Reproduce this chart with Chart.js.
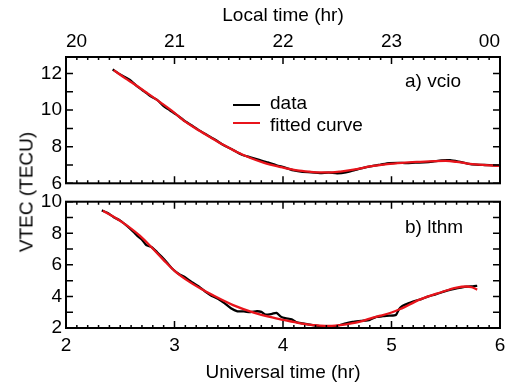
<!DOCTYPE html>
<html>
<head>
<meta charset="utf-8">
<script src="https://cdn.jsdelivr.net/npm/chart.js@4.4.1/dist/chart.umd.min.js"></script>
<style>
  body { margin: 0; background: #fff; }
  #wrap { position: relative; width: 507px; height: 387px; font-family: 'Liberation Sans', Arial, sans-serif; color: #000; }
  canvas { position: absolute; left: 0; }
  .txt { position: absolute; font-size: 19px; line-height: 19px; white-space: nowrap; }
  .swatch { position: absolute; height: 2px; width: 27px; }
</style>
</head>
<body>
<div id="wrap">
  <canvas id="top" width="507" height="196" style="top:0"></canvas>
  <canvas id="bottom" width="507" height="197" style="top:190px"></canvas>

  <div class="txt" style="left:405px; top:71px">a) vcio</div>
  <div class="txt" style="left:405px; top:217px">b) lthm</div>

  <div class="swatch" style="left:233px; top:104px; background:#000"></div>
  <div class="txt" style="left:270px; top:93px">data</div>
  <div class="swatch" style="left:233px; top:122px; background:#e8141b"></div>
  <div class="txt" style="left:270px; top:115px">fitted curve</div>

  <div class="txt" style="left:26px; top:192px; transform: translate(-50%, -50%) rotate(-90deg);">VTEC (TECU)</div>
</div>

<script>
// vcio station: universal time (hr) and VTEC (TECU)
var vcioTime = [2.43, 2.48, 2.55, 2.60, 2.66, 2.72, 2.78, 2.84, 2.90, 2.96, 3.02, 3.10, 3.16, 3.22, 3.30, 3.38,
  3.46, 3.54, 3.62, 3.70, 3.78, 3.86, 3.94, 4.02, 4.10, 4.18, 4.26, 4.34, 4.42, 4.50, 4.58, 4.66, 4.74, 4.82,
  4.90, 4.98, 5.06, 5.14, 5.22, 5.30, 5.38, 5.46, 5.54, 5.62, 5.70, 5.78, 5.86, 5.94, 6.00];
var vcioData = [12.22, 12.02, 11.78, 11.60, 11.28, 11.02, 10.76, 10.56, 10.22, 9.98, 9.74, 9.38, 9.16, 8.92, 8.64, 8.36,
  8.06, 7.82, 7.56, 7.42, 7.28, 7.14, 6.98, 6.86, 6.70, 6.62, 6.60, 6.56, 6.58, 6.55, 6.60, 6.72, 6.84, 6.94,
  7.02, 7.10, 7.12, 7.10, 7.13, 7.14, 7.18, 7.25, 7.26, 7.18, 7.08, 7.02, 7.00, 6.98, 6.96];
var vcioFitTime = [2.44, 2.55, 2.62, 2.75, 2.87, 3.00, 3.08, 3.20, 3.33, 3.45, 3.57, 3.70, 3.82, 3.97, 4.13, 4.25,
  4.35, 4.45, 4.53, 4.68, 4.80, 4.96, 5.10, 5.25, 5.40, 5.50, 5.60, 5.70, 5.80, 5.90, 6.00];
var vcioFit = [12.18, 11.72, 11.45, 10.92, 10.42, 9.85, 9.45, 8.98, 8.52, 8.10, 7.72, 7.38, 7.13, 6.90, 6.70, 6.63,
  6.60, 6.60, 6.64, 6.77, 6.92, 7.05, 7.12, 7.17, 7.21, 7.22, 7.17, 7.08, 7.02, 6.98, 6.95];

// lthm station
var lthmTime = [2.33, 2.38, 2.44, 2.50, 2.57, 2.62, 2.66, 2.70, 2.74, 2.79, 2.84, 2.88, 2.93, 2.98, 3.04, 3.10,
  3.16, 3.22, 3.28, 3.34, 3.40, 3.46, 3.52, 3.58, 3.64, 3.70, 3.76, 3.80, 3.84, 3.90, 3.94, 3.98, 4.02, 4.08,
  4.12, 4.18, 4.26, 4.34, 4.42, 4.50, 4.58, 4.64, 4.72, 4.80, 4.86, 4.92, 4.98, 5.04, 5.07, 5.10, 5.16, 5.22,
  5.28, 5.34, 5.40, 5.46, 5.52, 5.58, 5.64, 5.70, 5.75, 5.79];
var lthmData = [9.45, 9.30, 9.02, 8.80, 8.42, 8.10, 7.82, 7.60, 7.25, 7.12, 6.80, 6.52, 6.15, 5.75, 5.42, 5.20,
  4.90, 4.65, 4.32, 4.05, 3.85, 3.58, 3.25, 3.06, 3.05, 3.00, 3.06, 3.02, 2.84, 2.90, 2.96, 2.72, 2.62, 2.55,
  2.38, 2.30, 2.20, 2.12, 2.10, 2.14, 2.30, 2.38, 2.45, 2.52, 2.70, 2.75, 2.78, 2.82, 3.20, 3.40, 3.58, 3.72,
  3.85, 4.00, 4.12, 4.25, 4.38, 4.48, 4.56, 4.62, 4.64, 4.67];
var lthmFitTime = [2.34, 2.45, 2.55, 2.68, 2.79, 2.90, 3.00, 3.11, 3.24, 3.36, 3.54, 3.73, 3.90, 4.00, 4.16, 4.34,
  4.45, 4.53, 4.71, 4.83, 4.90, 5.00, 5.08, 5.26, 5.45, 5.60, 5.69, 5.74, 5.79];
var lthmFit = [9.42, 9.00, 8.55, 7.85, 7.10, 6.30, 5.62, 5.05, 4.50, 4.05, 3.45, 2.98, 2.67, 2.52, 2.30, 2.15,
  2.13, 2.18, 2.40, 2.66, 2.78, 2.98, 3.20, 3.80, 4.25, 4.56, 4.63, 4.58, 4.43];

// tick labels
var utTicks = [2, 3, 4, 5, 6];
var localTicks = [20, 21, 22, 23, 24];
var vcioTicks = [6, 8, 10, 12];
var lthmTicks = [2, 4, 6, 8, 10];

var FONT = { family: "'Liberation Sans', Arial, sans-serif", size: 19 };
Chart.defaults.color = '#000';
Chart.defaults.font = FONT;

function pairs(xs, ys) {
  return xs.map(function (x, i) { return { x: x, y: ys[i] }; });
}

function fixedTicks(list) {
  return function (scale) {
    scale.ticks = list.map(function (v) { return { value: v }; });
  };
}

// no extra room for overhanging end labels, the plot box is placed by layout padding
function noOverhang(scale) {
  scale.paddingTop = 0; scale.paddingBottom = 0;
  scale.paddingLeft = 0; scale.paddingRight = 0;
}

// box around the plot with inward major/minor ticks on every side
var framePlugin = {
  id: 'frame',
  afterDraw: function (chart) {
    var ctx = chart.ctx, a = chart.chartArea;
    var xs = chart.scales.x, ys = chart.scales.y;
    ctx.save();
    ctx.strokeStyle = '#000';
    ctx.lineWidth = 2;
    ctx.strokeRect(a.left, a.top, a.right - a.left, a.bottom - a.top);
    ctx.lineWidth = 1.5;
    ctx.beginPath();
    for (var i = 20; i <= 60; i++) {
      var px = xs.getPixelForValue(i / 10);
      var len = (i % 10 === 0) ? 7 : 3;
      ctx.moveTo(px, a.top); ctx.lineTo(px, a.top + len);
      ctx.moveTo(px, a.bottom); ctx.lineTo(px, a.bottom - len);
    }
    for (var v = Math.ceil(ys.min); v <= ys.max; v++) {
      var py = ys.getPixelForValue(v);
      ctx.moveTo(a.left, py); ctx.lineTo(a.left + 7, py);
      ctx.moveTo(a.right, py); ctx.lineTo(a.right - 7, py);
    }
    ctx.stroke();
    ctx.restore();
  }
};

function seriesSets(time, data, fitTime, fit) {
  return [
    { label: 'fitted curve', data: pairs(fitTime, fit), borderColor: '#e8141b', borderWidth: 2.3,
      pointRadius: 0, tension: 0.4, cubicInterpolationMode: 'monotone' },
    { label: 'data', data: pairs(time, data), borderColor: '#000', borderWidth: 2.3,
      pointRadius: 0, tension: 0.2 }
  ];
}

var yCommon = {
  type: 'linear',
  grid: { display: false, drawTicks: false },
  border: { display: false },
  ticks: { padding: 4, font: FONT, color: '#000' },
  afterFit: function (s) { s.width = 66; noOverhang(s); }
};

new Chart(document.getElementById('top'), {
  type: 'line',
  data: { datasets: seriesSets(vcioTime, vcioData, vcioFitTime, vcioFit) },
  plugins: [framePlugin],
  options: {
    responsive: false,
    animation: false,
    devicePixelRatio: 1,
    layout: { padding: { left: 0, right: 7, top: 0, bottom: 12.7 } },
    plugins: { legend: { display: false }, tooltip: { enabled: false } },
    scales: {
      x: { type: 'linear', min: 2, max: 6, display: false },
      xTop: {
        type: 'linear', position: 'top', min: 20, max: 24,
        grid: { display: false, drawTicks: false },
        border: { display: false },
        afterBuildTicks: fixedTicks(localTicks),
        afterFit: function (s) { s.height = 57; noOverhang(s); },
        ticks: {
          align: 'inner', padding: 4, maxRotation: 0, font: FONT, color: '#000',
          callback: function (v) { return v === 24 ? '00' : String(v); }
        },
        title: { display: true, text: 'Local time (hr)', font: FONT, color: '#000', padding: { top: 4, bottom: 0 } }
      },
      y: Object.assign({}, yCommon, { min: 6, max: 12.9, afterBuildTicks: fixedTicks(vcioTicks) })
    }
  }
});

new Chart(document.getElementById('bottom'), {
  type: 'line',
  data: { datasets: seriesSets(lthmTime, lthmData, lthmFitTime, lthmFit) },
  plugins: [framePlugin],
  options: {
    responsive: false,
    animation: false,
    devicePixelRatio: 1,
    layout: { padding: { left: 0, right: 7, top: 11.7, bottom: 0 } },
    plugins: { legend: { display: false }, tooltip: { enabled: false } },
    scales: {
      x: {
        type: 'linear', position: 'bottom', min: 2, max: 6,
        grid: { display: false, drawTicks: false },
        border: { display: false },
        afterBuildTicks: fixedTicks(utTicks),
        afterFit: function (s) { s.height = 59; noOverhang(s); },
        ticks: { padding: 6, maxRotation: 0, font: FONT, color: '#000' },
        title: { display: true, text: 'Universal time (hr)', font: FONT, color: '#000', padding: { top: 0, bottom: 3 } }
      },
      y: Object.assign({}, yCommon, { min: 2, max: 10, afterBuildTicks: fixedTicks(lthmTicks) })
    }
  }
});
</script>
</body>
</html>
